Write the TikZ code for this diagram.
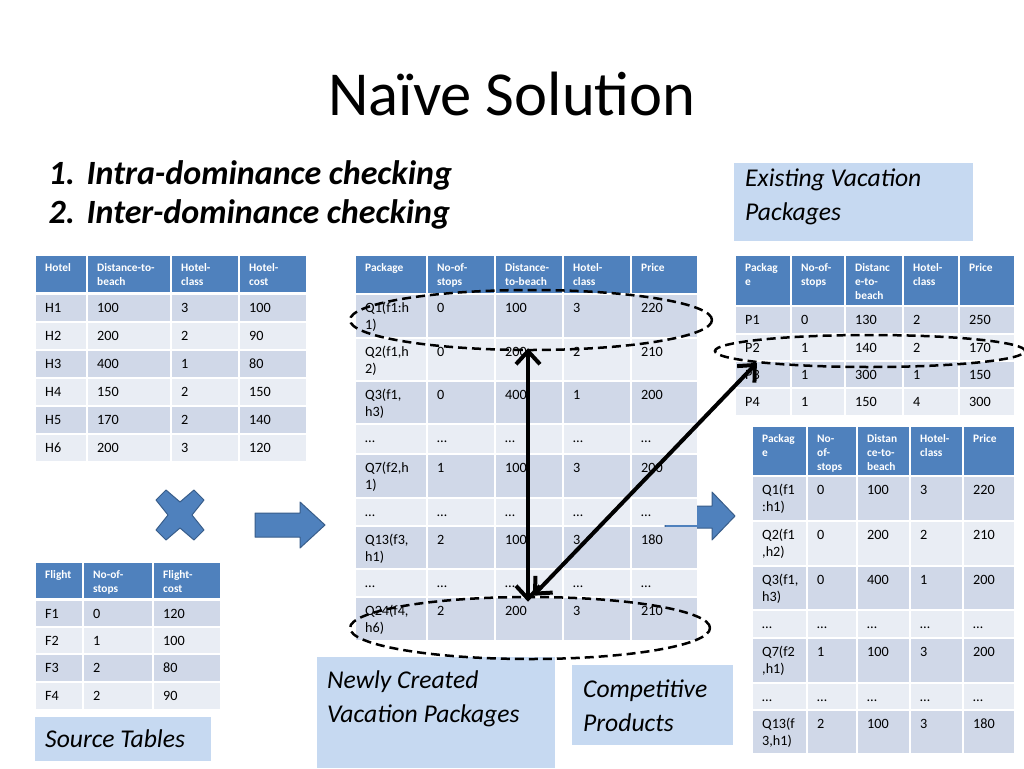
\documentclass[tikz,border=0pt]{standalone}
\usepackage{fontspec}
\setmainfont{Carlito}
\usetikzlibrary{shapes.geometric,arrows.meta}
\definecolor{hdcol}{HTML}{4F81BD}
\definecolor{oddcol}{HTML}{D0D8E8}
\definecolor{evencol}{HTML}{E9EDF4}
\definecolor{boxcol}{HTML}{C6D9F1}
\definecolor{shapeborder}{HTML}{385D8A}
\newcommand\hdfont{\fontsize{11.4}{14}\selectfont\bfseries}
\newcommand\bdfont{\fontsize{14.2}{17}\selectfont}
\newcommand\titlefont{\fontsize{62.6}{75}\selectfont}
\newcommand\listfont{\fontsize{34}{39}\selectfont\bfseries\itshape}
\newcommand\boxfont{\fontsize{25.6}{34}\selectfont\itshape}
\tikzset{
  cellhd/.style={fill=hdcol},
  cellodd/.style={fill=oddcol},
  celleven/.style={fill=evencol},
  cellhdtxt/.style={font=\hdfont, text=white},
  celloddtxt/.style={font=\bdfont},
  celleventxt/.style={font=\bdfont},
  celltext/.style={anchor=north west, inner sep=0pt, align=left},
  textbox/.style={fill=boxcol},
  boxtext/.style={anchor=north west, inner sep=0pt, align=left, font=\boxfont},
  blockshape/.style={fill=hdcol, draw=shapeborder, line width=1pt, line join=round},
  ring/.style={ellipse, draw=black, dashed, dash pattern=on 9pt off 5pt, line width=2.5pt, inner sep=0pt},
  dblarrow/.style={line width=4pt, {Straight Barb[length=13pt,width=24pt]}-{Straight Barb[length=13pt,width=24pt]}},
}
% cell: name, x0, x1, ytop, height, kind, text
\newcommand\cellx[7]{%
  \fill[cell#6] (#2+1,#4) rectangle (#3-1,#4+#5);
  \node[celltext, cell#6txt] (#1) at (#2+10,#4+5) {\strut #7};
}
\newcommand\rowv[9]{%
  \cellx{#1a}{\cA}{\cB}{#2}{#3}{#4}{#5}%
  \cellx{#1b}{\cB}{\cC}{#2}{#3}{#4}{#6}%
  \cellx{#1c}{\cC}{\cD}{#2}{#3}{#4}{#7}%
  \cellx{#1d}{\cD}{\cE}{#2}{#3}{#4}{#8}%
  \cellx{#1e}{\cE}{\cF}{#2}{#3}{#4}{#9}%
}
\newcommand\rowiv[8]{%
  \cellx{#1a}{\cA}{\cB}{#2}{#3}{#4}{#5}%
  \cellx{#1b}{\cB}{\cC}{#2}{#3}{#4}{#6}%
  \cellx{#1c}{\cC}{\cD}{#2}{#3}{#4}{#7}%
  \cellx{#1d}{\cD}{\cE}{#2}{#3}{#4}{#8}%
}
\newcommand\rowiii[7]{%
  \cellx{#1a}{\cA}{\cB}{#2}{#3}{#4}{#5}%
  \cellx{#1b}{\cB}{\cC}{#2}{#3}{#4}{#6}%
  \cellx{#1c}{\cC}{\cD}{#2}{#3}{#4}{#7}%
}
\begin{document}
\begin{tikzpicture}[x=1pt,y=-1pt]
\useasboundingbox[fill=white] (0,0) rectangle (1024,768);

% Title and list
\node[anchor=base, font=\titlefont] (title) at (512,115) {Naïve Solution};
\node[anchor=base west, font=\listfont] (num1) at (45,184) {1.};
\node[anchor=base west, font=\listfont] (item1) at (83,184) {Intra-dominance checking};
\node[anchor=base west, font=\listfont] (num2) at (45,223) {2.};
\node[anchor=base west, font=\listfont] (item2) at (83,223) {Inter-dominance checking};

% Hotel table
\def\cA{35}\def\cB{87}\def\cC{171}\def\cD{239}\def\cE{307}
\rowiv{h0}{256}{36}{hd}{Hotel}{Distance-to-\\beach}{Hotel-\\class}{Hotel-\\cost}
\rowiv{h1}{295}{26}{odd}{H1}{100}{3}{100}
\rowiv{h2}{323}{26}{even}{H2}{200}{2}{90}
\rowiv{h3}{351}{26}{odd}{H3}{400}{1}{80}
\rowiv{h4}{379}{26}{even}{H4}{150}{2}{150}
\rowiv{h5}{407}{26}{odd}{H5}{170}{2}{140}
\rowiv{h6}{435}{26}{even}{H6}{200}{3}{120}

% Flight table
\def\cA{35}\def\cB{83}\def\cC{153}\def\cD{221}
\rowiii{f0}{563}{35}{hd}{Flight}{No-of-\\stops}{Flight-\\cost}
\rowiii{f1}{601}{25}{odd}{F1}{0}{120}
\rowiii{f2}{628}{25}{even}{F2}{1}{100}
\rowiii{f3}{655}{26}{odd}{F3}{2}{80}
\rowiii{f4}{683}{26}{even}{F4}{2}{90}

% Source tables box
\fill[textbox] (35,717) rectangle (211,761);
\node[boxtext] (srclabel) at (45,723.2) {\strut Source Tables};

% Cross and block arrows
\fill[blockshape] (156,500) -- (166,490) -- (180,502) -- (194,490) -- (204,500) -- (192,515)
  -- (204,530) -- (194,540) -- (180,528) -- (166,540) -- (156,530) -- (168,515) -- cycle;
\fill[blockshape] (255,513) -- (300,513) -- (300,502) -- (325,525) -- (300,548) -- (300,537) -- (255,537) -- cycle;
\fill[blockshape] (665,506) -- (712,506) -- (712,492) -- (735,516) -- (712,540) -- (712,528) -- (665,528) -- cycle;

% Center table
\def\cA{355}\def\cB{427}\def\cC{495}\def\cD{563}\def\cE{631}\def\cF{698}
\rowv{c0}{256}{37}{hd}{Package}{No-of-\\stops}{Distance-\\to-beach}{Hotel-\\class}{Price}
\rowv{c1}{295}{42}{odd}{Q1(f1:h\\1)}{0}{100}{3}{220}
\rowv{c2}{339}{41}{even}{Q2(f1,h\\2)}{0}{200}{2}{210}
\rowv{c3}{382}{41}{odd}{Q3(f1,\\h3)}{0}{400}{1}{200}
\rowv{c4}{425}{28}{even}{…}{…}{…}{…}{…}
\rowv{c5}{455}{42}{odd}{Q7(f2,h\\1)}{1}{100}{3}{200}
\rowv{c6}{499}{26}{even}{…}{…}{…}{…}{…}
\rowv{c7}{527}{41}{odd}{Q13(f3,\\h1)}{2}{100}{3}{180}
\rowv{c8}{570}{26}{even}{…}{…}{…}{…}{…}
\rowv{c9}{598}{42}{odd}{Q24(f4,\\h6)}{2}{200}{3}{210}

% Existing packages box
\fill[textbox] (734,163) rectangle (973,241);
\node[boxtext] (existlabel) at (745,162.2) {\strut Existing Vacation\\Packages};

% Right top table
\def\cA{735}\def\cB{791}\def\cC{845}\def\cD{903}\def\cE{959}\def\cF{1015}
\rowv{p0}{256}{49}{hd}{Packag\\e}{No-of-\\stops}{Distanc\\e-to-\\beach}{Hotel-\\class}{Price}
\rowv{p1}{307}{26}{odd}{P1}{0}{130}{2}{250}
\rowv{p2}{335}{25}{even}{P2}{1}{140}{2}{170}
\rowv{p3}{362}{25}{odd}{P3}{1}{300}{1}{150}
\rowv{p4}{389}{26}{even}{P4}{1}{150}{4}{300}

% Right bottom table
\def\cA{752}\def\cB{807}\def\cC{857}\def\cD{910}\def\cE{963}\def\cF{1015}
\rowv{r0}{427}{48}{hd}{Packag\\e}{No-\\of-\\stops}{Distan\\ce-to-\\beach}{Hotel-\\class}{Price}
\rowv{r1}{477}{43}{odd}{Q1(f1\\:h1)}{0}{100}{3}{220}
\rowv{r2}{522}{43}{even}{Q2(f1\\,h2)}{0}{200}{2}{210}
\rowv{r3}{567}{42}{odd}{Q3(f1,\\h3)}{0}{400}{1}{200}
\rowv{r4}{611}{26}{even}{…}{…}{…}{…}{…}
\rowv{r5}{639}{43}{odd}{Q7(f2\\,h1)}{1}{100}{3}{200}
\rowv{r6}{684}{25}{even}{…}{…}{…}{…}{…}
\rowv{r7}{711}{42}{odd}{Q13(f\\3,h1)}{2}{100}{3}{180}

% Bottom text boxes
\fill[textbox] (317,657) rectangle (555,768);
\node[boxtext] (newlabel) at (327,664.2) {\strut Newly Created\\Vacation Packages};
\fill[textbox] (572,665) rectangle (733,745);
\node[boxtext] (complabel) at (583,673.2) {\strut Competitive\\Products};

% Dashed rings
\node[ring, minimum width=362pt, minimum height=60pt] (eQ1) at (531,320) {};
\node[ring, minimum width=360pt, minimum height=62pt] (eQ24) at (530,628) {};
\node[ring, minimum width=310pt, minimum height=32pt] (eP2) at (870,351) {};

% Dominance arrows
\draw[dblarrow] ([xshift=-3pt,yshift=3pt]eQ1.south) -- ([xshift=-2pt,yshift=-6pt]eQ24.north);
\draw[dblarrow] ([xshift=3pt]eQ24.north) -- (eP2.186);
\end{tikzpicture}
\end{document}
